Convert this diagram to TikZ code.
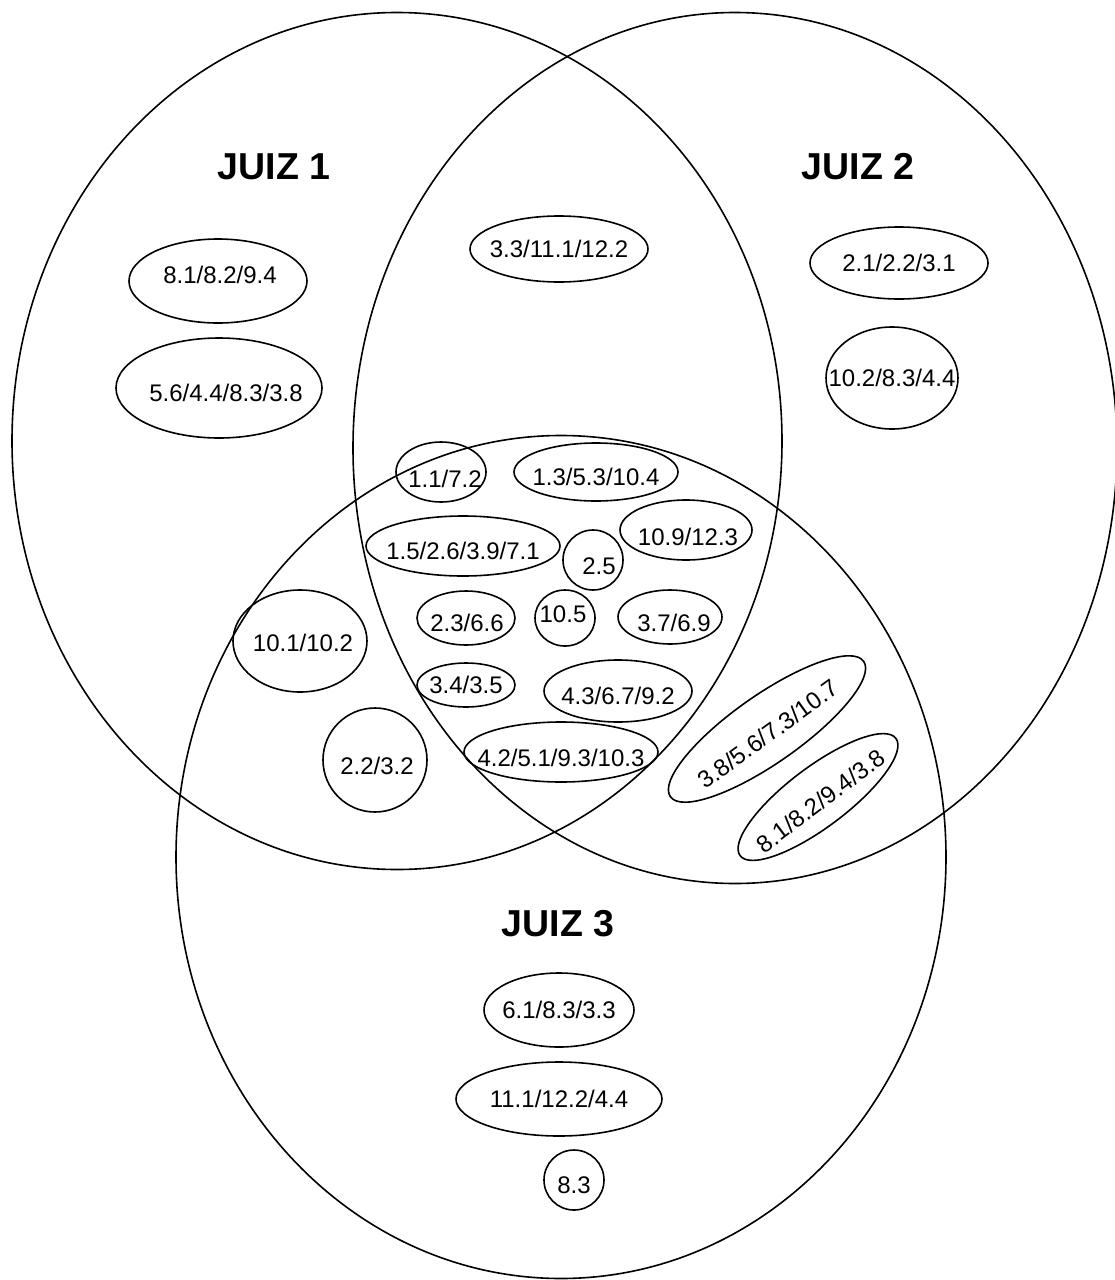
\documentclass[tikz,border=0pt]{standalone}
\usepackage{fontspec}
\setmainfont{Liberation Sans}
\usetikzlibrary{shapes.geometric}
\begin{document}
\begin{tikzpicture}[x=1pt,y=-1pt,
  bigset/.style={ellipse, draw, line width=1.6pt, inner sep=0pt},
  blob/.style={ellipse, draw, line width=1.6pt, inner sep=0pt, font=\fontsize{24}{28}\selectfont},
  lbl/.style={inner sep=0pt, font=\fontsize{24}{28}\selectfont},
  title/.style={inner sep=0pt, font=\fontsize{37.5}{42}\selectfont\bfseries}]
\useasboundingbox (0,0) rectangle (1115,1280);
\fill[white] (0,0) rectangle (1115,1280);
% the three judges
\node[bigset, minimum width=770pt, minimum height=857pt] (j1) at (397,441) {};
\node[bigset, minimum width=764pt, minimum height=871pt] (j2) at (735,448) {};
\node[bigset, minimum width=770pt, minimum height=843pt] (j3) at (561,857) {};
\node[title] (t1) at (274,167) {JUIZ 1};
\node[title] (t2) at (858,167) {JUIZ 2};
\node[title] (t3) at (558,924) {JUIZ 3};
% judge 1 only
\node[blob, minimum width=178pt, minimum height=84pt] (a1) at (218,281) {};
\node[lbl] at ([shift={(2,-6)}]a1) {8.1/8.2/9.4};
\node[blob, minimum width=206pt, minimum height=100pt] (a2) at (219,388) {};
\node[lbl] at ([shift={(7,5)}]a2) {5.6/4.4/8.3/3.8};
% judge 1 and 2
\node[blob, minimum width=178pt, minimum height=66pt] (b1) at (559,249) {};
\node[lbl] at (b1) {3.3/11.1/12.2};
% judge 2 only
\node[blob, minimum width=178pt, minimum height=72pt] (c1) at (899,263) {};
\node[lbl] at (c1) {2.1/2.2/3.1};
\node[blob, minimum width=132pt, minimum height=102pt] (c2) at (892,378) {};
\node[lbl] at (c2) {10.2/8.3/4.4};
% all three
\node[blob, minimum width=90pt, minimum height=60pt] (d1) at (441,472) {};
\node[lbl] at ([shift={(4,7)}]d1) {1.1/7.2};
\node[blob, minimum width=164pt, minimum height=58pt] (d2) at (596,472) {};
\node[lbl] at ([shift={(0,5)}]d2) {1.3/5.3/10.4};
\node[blob, minimum width=194pt, minimum height=60pt] (d3) at (463,546) {};
\node[lbl] at ([shift={(0,5)}]d3) {1.5/2.6/3.9/7.1};
\node[blob, minimum width=60pt, minimum height=60pt] (d4) at (593,560) {};
\node[lbl] at ([shift={(6,6)}]d4) {2.5};
\node[blob, minimum width=132pt, minimum height=60pt] (d5) at (686,530) {};
\node[lbl] at ([shift={(2,7)}]d5) {10.9/12.3};
\node[blob, minimum width=98pt, minimum height=54pt] (d6) at (466,618) {};
\node[lbl] at ([shift={(1,5)}]d6) {2.3/6.6};
\node[blob, minimum width=60pt, minimum height=56pt] (d7) at (565,618) {};
\node[lbl] at ([shift={(-2,-4)}]d7) {10.5};
\node[blob, minimum width=104pt, minimum height=54pt] (d8) at (670,617) {};
\node[lbl] at ([shift={(4,6)}]d8) {3.7/6.9};
\node[blob, minimum width=98pt, minimum height=44pt] (d9) at (466,685) {};
\node[lbl] at (d9) {3.4/3.5};
\node[blob, minimum width=148pt, minimum height=62pt] (d10) at (618,691) {};
\node[lbl] at ([shift={(0,5)}]d10) {4.3/6.7/9.2};
\node[blob, minimum width=194pt, minimum height=60pt] (d11) at (561,752) {};
\node[lbl] at ([shift={(0,6)}]d11) {4.2/5.1/9.3/10.3};
% judge 1 and 3
\node[blob, minimum width=134pt, minimum height=102pt] (e1) at (300,641) {};
\node[lbl] at ([shift={(3,2)}]e1) {10.1/10.2};
\node[blob, minimum width=104pt, minimum height=104pt] (e2) at (375,760) {};
\node[lbl] at ([shift={(2,6)}]e2) {2.2/3.2};
% judge 2 and 3
\node[blob, rotate=35, minimum width=236pt, minimum height=68pt] (f1) at (767,729) {};
\node[lbl, rotate=36] at ([shift={(1,5)}]f1) {3.8/5.6/7.3/10.7};
\node[blob, rotate=37, minimum width=195pt, minimum height=60pt] (f2) at (818,797) {};
\node[lbl, rotate=37] at ([shift={(3,4)}]f2) {8.1/8.2/9.4/3.8};
% judge 3 only
\node[blob, minimum width=150pt, minimum height=74pt] (g1) at (559,1010) {};
\node[lbl] at (g1) {6.1/8.3/3.3};
\node[blob, minimum width=206pt, minimum height=74pt] (g2) at (559,1099) {};
\node[lbl] at (g2) {11.1/12.2/4.4};
\node[blob, minimum width=60pt, minimum height=60pt] (g3) at (574,1180) {};
\node[lbl] at ([shift={(0,5)}]g3) {8.3};
\end{tikzpicture}
\end{document}
